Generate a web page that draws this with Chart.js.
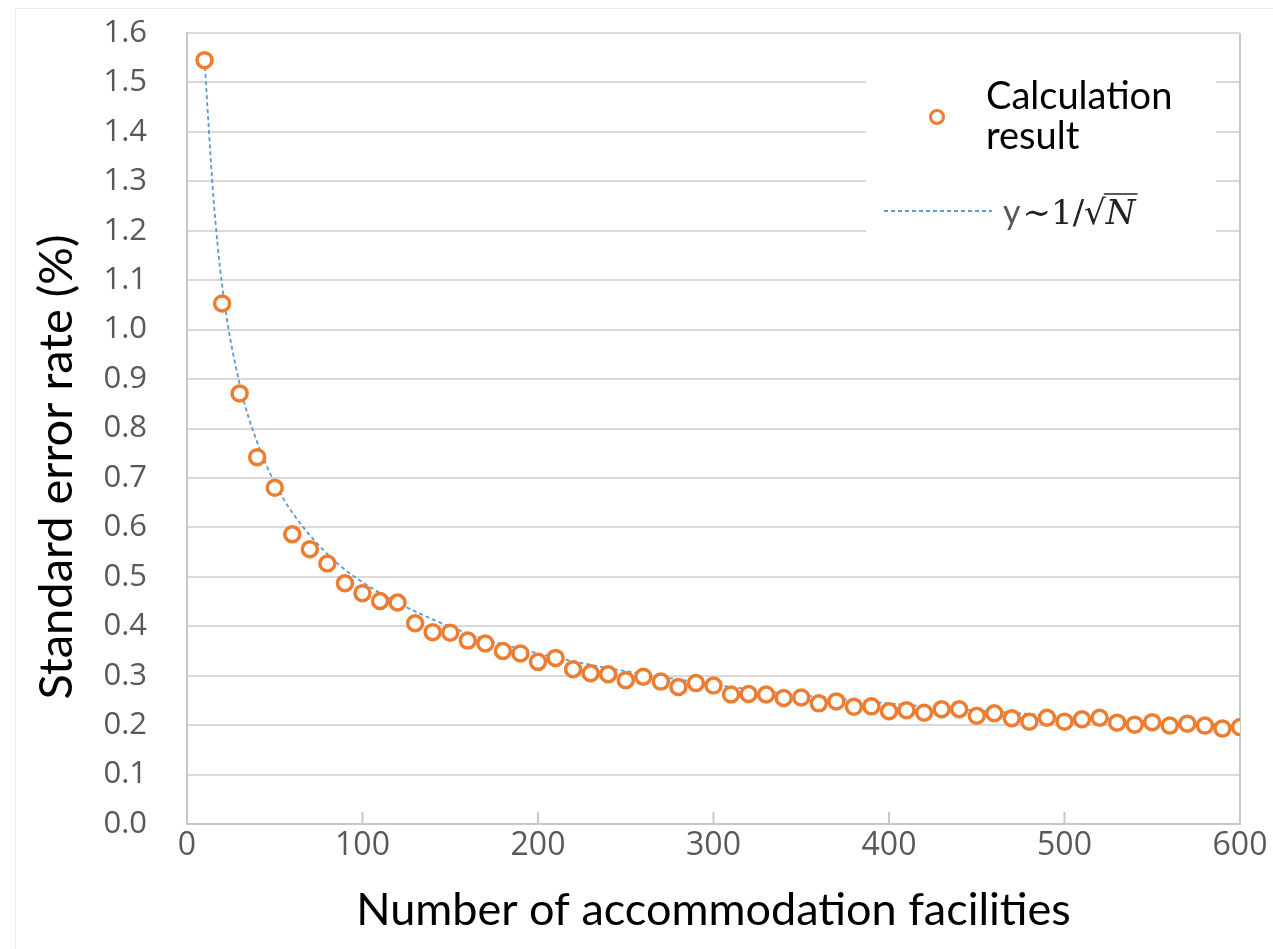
<!DOCTYPE html>
<html>
<head>
<meta charset="utf-8">
<script src="https://cdn.jsdelivr.net/npm/chart.js@4.4.1/dist/chart.umd.min.js"></script>
<style>
  html, body { margin: 0; padding: 0; background: #fff; }
  #wrap { width: 1273px; height: 949px; }
</style>
</head>
<body>
<div id="wrap"><canvas id="chart"></canvas></div>
<script>
// number of facilities (x) and the computed standard error rate (%)
var facilities = [10, 20, 30, 40, 50, 60, 70, 80, 90, 100,
  110, 120, 130, 140, 150, 160, 170, 180, 190, 200,
  210, 220, 230, 240, 250, 260, 270, 280, 290, 300,
  310, 320, 330, 340, 350, 360, 370, 380, 390, 400,
  410, 420, 430, 440, 450, 460, 470, 480, 490, 500,
  510, 520, 530, 540, 550, 560, 570, 580, 590, 600];
var errorRate = [1.545, 1.053, 0.871, 0.742, 0.680, 0.586, 0.556, 0.527, 0.487, 0.467,
  0.451, 0.448, 0.406, 0.388, 0.387, 0.371, 0.365, 0.350, 0.345, 0.328,
  0.336, 0.313, 0.305, 0.303, 0.291, 0.298, 0.288, 0.277, 0.285, 0.280,
  0.262, 0.263, 0.262, 0.255, 0.256, 0.244, 0.248, 0.237, 0.238, 0.228,
  0.230, 0.225, 0.232, 0.232, 0.219, 0.224, 0.214, 0.207, 0.215, 0.207,
  0.212, 0.215, 0.205, 0.201, 0.206, 0.199, 0.203, 0.199, 0.193, 0.196];

// dashed trend curve y ~ 1/sqrt(N)
var trendX = [10, 15, 20, 30, 40, 50, 60, 80, 100, 150, 200, 300, 400, 500, 600];
var trendY = [1.545, 1.27, 1.09, 0.89, 0.772, 0.69, 0.63, 0.546, 0.489, 0.399, 0.345, 0.282, 0.244, 0.218, 0.199];

var yTicks = ['0.0', '0.1', '0.2', '0.3', '0.4', '0.5', '0.6', '0.7', '0.8', '0.9', '1.0', '1.1', '1.2', '1.3', '1.4', '1.5', '1.6'];
var xTicks = [0, 100, 200, 300, 400, 500, 600];
var yTitle = 'Standard error rate (%)';

var orange = '#ED7D31';
var blue = '#5B9BD5';
var frameGray = '#c8c8c8';

var points = facilities.map(function (x, i) { return { x: x, y: errorRate[i] }; });
var trend = trendX.map(function (x, i) { return { x: x, y: trendY[i] }; });

// right border, inside tick marks on the x axis, faint outer frame, legend box, y title
var framePlugin = {
  id: 'frame',
  beforeDatasetsDraw: function (chart) {
    var ctx = chart.ctx, a = chart.chartArea, xs = chart.scales.x;
    ctx.save();
    ctx.strokeStyle = frameGray;
    ctx.lineWidth = 2;
    ctx.beginPath();
    ctx.moveTo(a.right, a.top);
    ctx.lineTo(a.right, a.bottom + 1);
    xTicks.forEach(function (v) {
      var px = xs.getPixelForValue(v);
      ctx.moveTo(px, a.bottom);
      ctx.lineTo(px, a.bottom - 12);
    });
    ctx.stroke();
    ctx.strokeStyle = '#ececec';
    ctx.lineWidth = 1;
    ctx.beginPath();
    ctx.moveTo(15.5, 949);
    ctx.lineTo(15.5, 8.5);
    ctx.lineTo(1273, 8.5);
    ctx.stroke();

    // y axis title
    ctx.save();
    ctx.translate(57, 467);
    ctx.rotate(-Math.PI / 2);
    ctx.fillStyle = '#000';
    ctx.font = '47px Lato';
    ctx.textAlign = 'center';
    ctx.textBaseline = 'middle';
    ctx.fillText(yTitle, 0, 0);
    ctx.restore();

    // legend
    ctx.fillStyle = '#fff';
    ctx.fillRect(866, 50, 350, 222);
    ctx.beginPath();
    ctx.arc(937, 117, 6.5, 0, Math.PI * 2);
    ctx.strokeStyle = orange;
    ctx.lineWidth = 3;
    ctx.stroke();
    ctx.fillStyle = '#000';
    ctx.font = '38px Lato';
    ctx.textBaseline = 'middle';
    ctx.textAlign = 'left';
    ctx.fillText('Calculation', 986, 97);
    ctx.fillText('result', 986, 137);

    ctx.beginPath();
    ctx.setLineDash([4, 3]);
    ctx.strokeStyle = blue;
    ctx.lineWidth = 1.8;
    ctx.moveTo(884, 211);
    ctx.lineTo(992, 211);
    ctx.stroke();
    ctx.setLineDash([]);

    ctx.textBaseline = 'alphabetic';
    ctx.fillStyle = '#595959';
    ctx.font = '34px Lato';
    var tx = 1003, by = 224;
    ctx.fillText('y', tx, by);
    tx += ctx.measureText('y').width + 2;
    ctx.fillStyle = '#222';
    ctx.font = '34px "DejaVu Serif"';
    ctx.fillText('\u223C1/\u221A', tx, by);
    tx += ctx.measureText('\u223C1/\u221A').width;
    ctx.font = 'italic 34px "DejaVu Serif"';
    ctx.fillText('N', tx, by);
    var nw = ctx.measureText('N').width;
    ctx.strokeStyle = '#222';
    ctx.lineWidth = 1.6;
    ctx.beginPath();
    ctx.moveTo(tx - 2, by - 30);
    ctx.lineTo(tx + nw + 2, by - 30);
    ctx.stroke();
    ctx.restore();
  }
};

new Chart(document.getElementById('chart'), {
  type: 'scatter',
  data: {
    datasets: [{
      label: 'Calculation result',
      data: points,
      pointRadius: 7.5,
      pointHoverRadius: 7.5,
      pointBorderWidth: 3.5,
      borderColor: orange,
      backgroundColor: '#ffffff',
      order: 1
    }, {
      type: 'line',
      label: 'y~1/sqrt(N)',
      data: trend,
      showLine: true,
      borderColor: blue,
      borderWidth: 1.8,
      borderDash: [4, 3],
      pointRadius: 0,
      cubicInterpolationMode: 'monotone',
      fill: false,
      order: 2
    }]
  },
  options: {
    responsive: true,
    maintainAspectRatio: false,
    animation: false,
    layout: { padding: { top: 33, right: 33, left: 0, bottom: 0 } },
    plugins: {
      legend: { display: false },
      tooltip: { enabled: false }
    },
    scales: {
      x: {
        type: 'linear',
        min: 0,
        max: 600,
        afterBuildTicks: function (s) { s.ticks = xTicks.map(function (v) { return { value: v }; }); },
        grid: { display: false },
        border: { display: true, color: frameGray, width: 2 },
        ticks: {
          padding: -5,
          color: '#595959',
          font: { family: 'Open Sans', size: 32 }
        },
        title: {
          display: true,
          text: 'Number of accommodation facilities',
          color: '#000',
          font: { family: 'Lato', size: 45 },
          padding: { top: 0, bottom: 12 }
        },
        afterFit: function (s) { s.height = 949 - 824; }
      },
      y: {
        min: 0,
        max: 1.6,
        afterBuildTicks: function (s) { s.ticks = yTicks.map(function (v) { return { value: parseFloat(v) }; }); },
        grid: { color: '#d9d9d9', lineWidth: 2, drawTicks: false },
        border: { display: true, color: frameGray, width: 2 },
        ticks: {
          padding: 40,
          color: '#595959',
          font: { family: 'Open Sans', size: 31 },
          callback: function (v, i) { return yTicks[i]; }
        },
        afterFit: function (s) {
          s.width = 187;
          s.paddingTop = 0;
          s.paddingBottom = 0;
        }
      }
    }
  },
  plugins: [framePlugin]
});
</script>
</body>
</html>
